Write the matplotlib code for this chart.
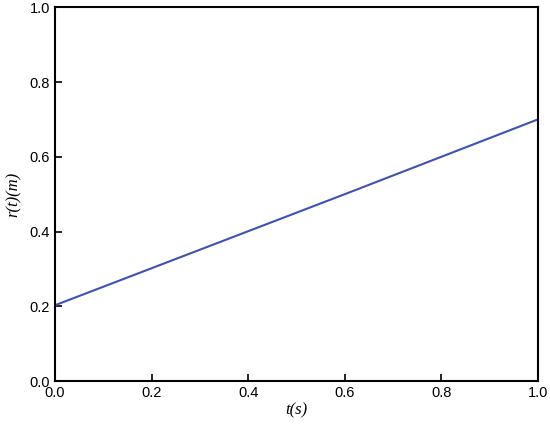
import matplotlib.pyplot as plt

# время и положение
t = [0.0, 0.2, 0.4, 0.6, 0.8, 1.0]
r = [0.203, 0.302, 0.401, 0.500, 0.600, 0.700]

xticks = [0.0, 0.2, 0.4, 0.6, 0.8, 1.0]
yticks = [0.0, 0.2, 0.4, 0.6, 0.8, 1.0]

plt.rcParams['font.family'] = ['Liberation Sans', 'DejaVu Sans']

fig = plt.figure(figsize=(5.5, 4.24), dpi=100)
ax = fig.add_axes([0.1, 0.101, 0.878, 0.882])

ax.plot(t, r, color='#3f51b5', linewidth=1.5)

ax.set_xlim(0, 1)
ax.set_ylim(0, 1)
ax.set_xticks(xticks)
ax.set_yticks(yticks)
ax.set_xticklabels([f'{v:.1f}' for v in xticks])
ax.set_yticklabels([f'{v:.1f}' for v in yticks])
ax.tick_params(direction='in', length=5, width=1.2, labelsize=10.5,
               top=False, right=False)
for s in ax.spines.values():
    s.set_linewidth(1.5)

ax.set_xlabel('t(s)', fontstyle='italic', fontsize=12, labelpad=2,
              family=['Liberation Serif', 'DejaVu Serif'])
ax.set_ylabel('r(t)(m)', fontstyle='italic', fontsize=12, labelpad=6,
              family=['Liberation Serif', 'DejaVu Serif'])

fig.savefig('out.png', dpi=100)
